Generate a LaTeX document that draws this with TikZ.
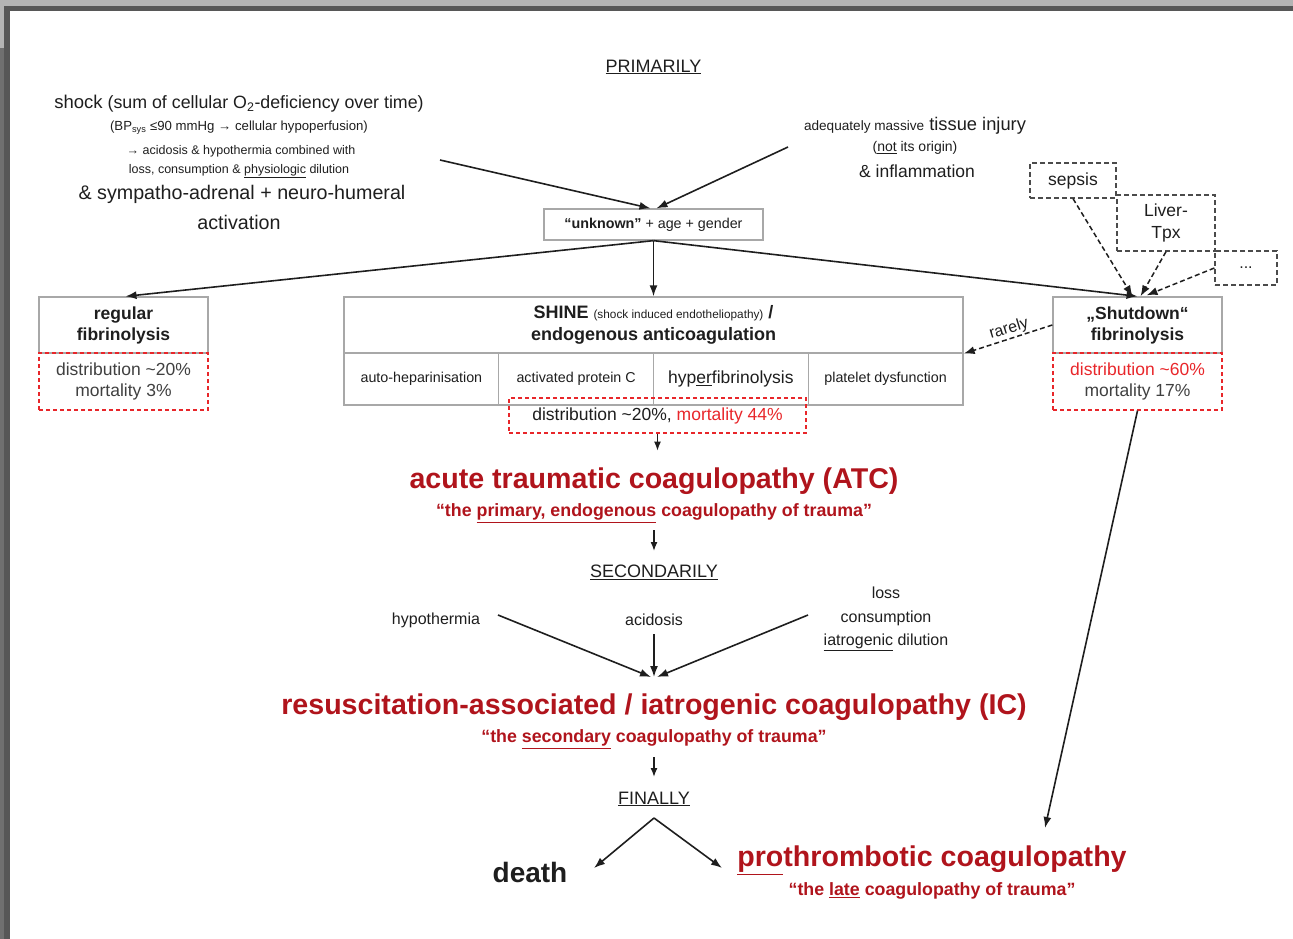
\documentclass[tikz,border=0pt]{standalone}
\usepackage{fontspec}
\setmainfont{Liberation Sans}
\usetikzlibrary{arrows.meta,calc}
\definecolor{dred}{HTML}{B0141C}
\definecolor{lred}{HTML}{E8262A}
\definecolor{boxgray}{HTML}{A8A8A8}
\definecolor{frameL}{HTML}{B4B4B4}
\definecolor{frameM}{HTML}{707070}
\definecolor{frameD}{HTML}{575757}
\definecolor{txt}{HTML}{1E1E1E}
\newcommand{\fsz}[2]{\fontsize{#1pt}{#2pt}\selectfont}
\begin{document}
\begin{tikzpicture}[x=1pt,y=-1pt,
  every node/.style={text=txt, inner sep=0pt, align=center},
  arr/.style={-{Latex[length=11pt,width=8pt]}, line width=1.6pt, draw=txt},
  sarr/.style={-{Latex[length=9pt,width=7pt]}, line width=1.4pt, draw=txt},
  darr/.style={-{Latex[length=11pt,width=8pt]}, line width=1.5pt, draw=txt, dash pattern=on 5pt off 3pt},
  gbox/.style={draw=boxgray, line width=1.3pt, inner sep=0pt},
  rdbox/.style={draw=lred, line width=1.3pt, dash pattern=on 4pt off 3pt, inner sep=0pt},
  kdbox/.style={draw=txt!80, line width=1.3pt, dash pattern=on 5pt off 3pt, inner sep=0pt},
  title/.style={text=dred, font=\bfseries\fsz{28.6}{32}},
  quote/.style={text=dred, font=\bfseries\fsz{17.8}{20}},
  lab/.style={font=\fsz{18}{20}},
  sm/.style={font=\fsz{12.5}{14}},
]
\useasboundingbox (0,0) rectangle (1293,939);
% screenshot frame
\fill[frameL] (0,0) rectangle (1293,6);
\fill[frameL] (0,6) rectangle (4,48);
\fill[frameM] (0,48) rectangle (4,939);
\fill[frameD] (4,6) rectangle (1293,11);
\fill[frameD] (4,6) rectangle (10,939);

% top labels
\node[lab] (prim) at (653.5,67) {\underline{PRIMARILY}};

% shock block
\node[font=\fsz{17.8}{20}] (shock) at (239,104) {{\fsz{18.5}{20}shock} (sum of cellular O\textsubscript{2}-deficiency over time)};
\node[font=\fsz{13.2}{14}] (bp) at (239,128) {(BP\textsubscript{sys} ≤90 mmHg → cellular hypoperfusion)};
\node[sm] (acid1) at (241,151) {→ acidosis \& hypothermia combined with};
\node[sm] (loss1) at (239,171) {loss, consumption \& \underline{physiologic} dilution};
\node[font=\fsz{19.7}{22}] (symp) at (242,194) {\& sympatho-adrenal + neuro-humeral};
\node[font=\fsz{19.7}{22}] (activ) at (239,222) {activation};
\coordinate (s1) at (440,160);

% tissue block
\node[font=\fsz{18.3}{20}] (tissue) at (915,126) {{\fsz{13.6}{14}adequately massive} tissue injury};
\node[font=\fsz{14}{16}] (notor) at (915,148) {(\underline{not} its origin)};
\node[font=\fsz{17.5}{20}] (infl) at (917,171) {\& inflammation};
\coordinate (t1) at (788,147);

% unknown box
\node[gbox, minimum width=219pt, minimum height=31pt, font=\fsz{14.3}{16}] (unk) at (653.5,224.5) {{\bfseries “unknown”} + age + gender};

% regular fibrinolysis
\node[gbox, minimum width=169pt, minimum height=56pt, font=\bfseries\fsz{17.5}{21}] (reg) at (123.5,325) {regular\\fibrinolysis};
\node[rdbox, minimum width=169pt, minimum height=57pt, font=\fsz{17.5}{21}, text=txt!85] (regst) at (123.5,381.5) {distribution \textasciitilde20\%\\mortality 3\%};

% SHINE
\node[gbox, minimum width=619pt, minimum height=56pt, font=\bfseries\fsz{18}{22}] (shine) at (653.5,325) {SHINE {\mdseries\fsz{11.8}{12}(shock induced endotheliopathy)} /\\endogenous anticoagulation};
\node[gbox, minimum width=154.75pt, minimum height=52pt, font=\fsz{14.3}{16}] (c1) at (421.375,379) {auto-heparinisation};
\node[gbox, minimum width=154.75pt, minimum height=52pt, font=\fsz{14.3}{16}] (c2) at (576.125,379) {activated protein C};
\node[gbox, minimum width=154.75pt, minimum height=52pt, font=\fsz{17.5}{20}] (c3) at (730.875,379) {hyp\underline{er}fibrinolysis};
\node[gbox, minimum width=154.75pt, minimum height=52pt, font=\fsz{14.3}{16}] (c4) at (885.625,379) {platelet dysfunction};
\node[rdbox, minimum width=297pt, minimum height=35pt, font=\fsz{17.5}{20}] (shst) at (657.5,415.5) {distribution \textasciitilde20\%, \textcolor{lred}{mortality 44\%}};

% Shutdown
\node[gbox, minimum width=169pt, minimum height=56pt, font=\bfseries\fsz{17.5}{21}] (shut) at (1137.5,325) {„Shutdown“\\fibrinolysis};
\node[rdbox, minimum width=169pt, minimum height=57pt, font=\fsz{17.5}{21}, text=txt!85] (shutst) at (1137.5,381.5) {\textcolor{lred}{distribution \textasciitilde60\%}\\mortality 17\%};

% dashed causes
\node[kdbox, minimum width=86pt, minimum height=35pt, font=\fsz{17.5}{20}] (sepsis) at (1073,180.5) {sepsis};
\node[kdbox, minimum width=98pt, minimum height=56pt, font=\fsz{17.5}{22}] (liver) at (1166,223) {Liver-\\Tpx};
\node[kdbox, minimum width=62pt, minimum height=34pt, font=\fsz{16}{20}] (dots) at (1246,268) {...};

% ATC
\node[title] (atc) at (654,481) {acute traumatic coagulopathy (ATC)};
\node[quote] (q1) at (654,513) {“the \underline{primary, endogenous} coagulopathy of trauma”};
\node[lab] (sec) at (654,572) {\underline{SECONDARILY}};
\node[font=\fsz{16}{20}] (hypo) at (436,620) {hypothermia};
\node[font=\fsz{16}{20}] (acid) at (654,620) {acidosis};
\node[font=\fsz{16}{23.5}] (loss) at (886,619) {loss\\consumption\\\underline{iatrogenic} dilution};

% IC
\node[title] (ic) at (654,707) {resuscitation-associated / iatrogenic coagulopathy (IC)};
\node[quote] (q2) at (654,739) {“the \underline{secondary} coagulopathy of trauma”};
\node[lab] (fin) at (654,799) {\underline{FINALLY}};
\node[font=\bfseries\fsz{28}{32}] (death) at (530,872) {death};
\node[title] (proth) at (932,860) {\underline{pro}thrombotic coagulopathy};
\node[quote] (q3) at (932,891) {“the \underline{late} coagulopathy of trauma”};

% connectors
\draw[arr] (s1) -- ($(unk.north)+(-3,0)$);
\draw[arr] (t1) -- ($(unk.north)+(3,0)$);
\draw[arr] (unk.south) -- ($(reg.north)+(2,0)$);
\draw[arr] (unk.south) -- (shine.north);
\draw[arr] (unk.south) -- (shut.north);
\draw[sarr] (shst.south) -- ($(shst.south)+(0,17)$) coordinate (a1);
\coordinate (a2s) at (654,530);
\coordinate (a2e) at (654,551);
\draw[sarr] (a2s) -- (a2e);
\coordinate (a3s) at (654,757);
\coordinate (a3e) at (654,777);
\draw[sarr] (a3s) -- (a3e);
\coordinate (h1) at (498,615);
\coordinate (l1) at (808,615);
\coordinate (icin) at (654,677);
\draw[arr] (h1) -- ($(icin)+(-3,0)$);
\draw[arr] ($(acid.south)+(0,8)$) -- (icin);
\draw[arr] (l1) -- ($(icin)+(3,0)$);
\coordinate (fork) at (654,818);
\coordinate (deathin) at (594,868);
\coordinate (prothin) at (722,868);
\draw[arr] (fork) -- (deathin);
\draw[arr] (fork) -- (prothin);
\coordinate (prothtop) at (1045,828);
\draw[arr] (shutst.south) -- (prothtop);
\draw[darr] (sepsis.south) -- ($(shut.north)+(-5,0)$);
\draw[darr] (liver.south) -- ($(shut.north)+(3,0)$);
\draw[darr] (dots.west) -- ($(shut.north)+(9,-1)$);
\draw[darr] (shut.west) -- (shine.south east);
\node[font=\fsz{16}{20}, rotate=17] (rarely) at (1009,329) {rarely};
\end{tikzpicture}
\end{document}
